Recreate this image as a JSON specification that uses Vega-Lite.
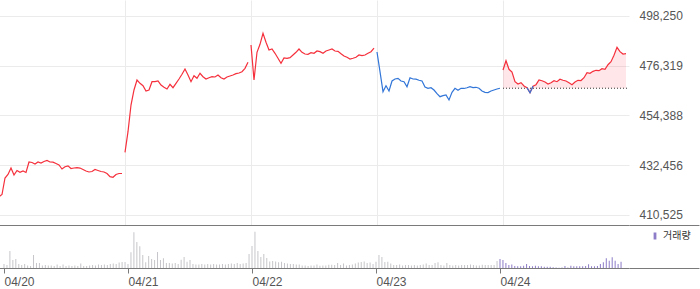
{
 "$schema": "https://vega.github.io/schema/vega-lite/v6.json",
 "padding": {"left": -4, "top": 0, "right": 0, "bottom": 0},
 "background": "white",
 "spacing": 1,
 "bounds": "flush",
 "config": {"view": {"stroke": null}, "font": "Liberation Sans"},
 "datasets": {
  "prev": [{"s": 168, "s2": 210, "p": 466400}],
  "m": [
{"s":0,"day":"04/20","p":418580,"v":4000},{"s":1,"day":"04/20","p":419550,"v":3000},{"s":2,"day":"04/20","p":426820,"v":17000},{"s":3,"day":"04/20","p":428360,"v":8000},{"s":4,"day":"04/20","p":431230,"v":9000},{"s":5,"day":"04/20","p":428140,"v":4000},{"s":6,"day":"04/20","p":430130,"v":3000},{"s":7,"day":"04/20","p":429330,"v":4000},{"s":8,"day":"04/20","p":429910,"v":2500},{"s":9,"day":"04/20","p":429250,"v":2000},
{"s":10,"day":"04/20","p":433870,"v":13000},{"s":11,"day":"04/20","p":433650,"v":5000},{"s":12,"day":"04/20","p":432990,"v":5000},{"s":13,"day":"04/20","p":433870,"v":2500},{"s":14,"day":"04/20","p":433430,"v":3000},{"s":15,"day":"04/20","p":434100,"v":2500},{"s":16,"day":"04/20","p":434540,"v":2500},{"s":17,"day":"04/20","p":433870,"v":2000},{"s":18,"day":"04/20","p":433800,"v":3500},{"s":19,"day":"04/20","p":433210,"v":2000},
{"s":20,"day":"04/20","p":432550,"v":3500},{"s":21,"day":"04/20","p":430790,"v":2000},{"s":22,"day":"04/20","p":431800,"v":2500},{"s":23,"day":"04/20","p":432200,"v":2000},{"s":24,"day":"04/20","p":431010,"v":2500},{"s":25,"day":"04/20","p":431230,"v":2000},{"s":26,"day":"04/20","p":431360,"v":4500},{"s":27,"day":"04/20","p":431200,"v":2000},{"s":28,"day":"04/20","p":430570,"v":2000},{"s":29,"day":"04/20","p":429910,"v":2500},
{"s":30,"day":"04/20","p":429470,"v":3000},{"s":31,"day":"04/20","p":429690,"v":2500},{"s":32,"day":"04/20","p":430570,"v":3500},{"s":33,"day":"04/20","p":430130,"v":3000},{"s":34,"day":"04/20","p":429690,"v":3500},{"s":35,"day":"04/20","p":429470,"v":3000},{"s":36,"day":"04/20","p":428800,"v":4000},{"s":37,"day":"04/20","p":427390,"v":4500},{"s":38,"day":"04/20","p":427130,"v":4000},{"s":39,"day":"04/20","p":428360,"v":5500},
{"s":40,"day":"04/20","p":428800,"v":6000},{"s":41,"day":"04/20","p":428800,"v":6000},
{"s":42,"day":"04/21","p":438150,"v":4000},{"s":43,"day":"04/21","p":447230,"v":15700},{"s":44,"day":"04/21","p":459000,"v":35700},{"s":45,"day":"04/21","p":465620,"v":26000},{"s":46,"day":"04/21","p":470030,"v":21700},{"s":47,"day":"04/21","p":468570,"v":13000},{"s":48,"day":"04/21","p":467520,"v":5700},{"s":49,"day":"04/21","p":465180,"v":12000},
{"s":50,"day":"04/21","p":465620,"v":9000},{"s":51,"day":"04/21","p":469280,"v":8000},{"s":52,"day":"04/21","p":469300,"v":16000},{"s":53,"day":"04/21","p":469590,"v":8000},{"s":54,"day":"04/21","p":467820,"v":9700},{"s":55,"day":"04/21","p":466810,"v":5000},{"s":56,"day":"04/21","p":466060,"v":5000},{"s":57,"day":"04/21","p":468130,"v":4500},{"s":58,"day":"04/21","p":466630,"v":5000},{"s":59,"day":"04/21","p":468570,"v":4000},
{"s":60,"day":"04/21","p":470470,"v":8300},{"s":61,"day":"04/21","p":472540,"v":11000},{"s":62,"day":"04/21","p":474880,"v":6300},{"s":63,"day":"04/21","p":472230,"v":8000},{"s":64,"day":"04/21","p":469280,"v":4000},{"s":65,"day":"04/21","p":471920,"v":3500},{"s":66,"day":"04/21","p":470780,"v":3500},{"s":67,"day":"04/21","p":472980,"v":4000},{"s":68,"day":"04/21","p":471480,"v":3500},{"s":69,"day":"04/21","p":470470,"v":4000},
{"s":70,"day":"04/21","p":471040,"v":3500},{"s":71,"day":"04/21","p":471480,"v":4000},{"s":72,"day":"04/21","p":471350,"v":3500},{"s":73,"day":"04/21","p":472230,"v":3500},{"s":74,"day":"04/21","p":471040,"v":4000},{"s":75,"day":"04/21","p":470470,"v":3500},{"s":76,"day":"04/21","p":471350,"v":4000},{"s":77,"day":"04/21","p":471790,"v":4500},{"s":78,"day":"04/21","p":472230,"v":4000},{"s":79,"day":"04/21","p":472810,"v":5000},
{"s":80,"day":"04/21","p":473110,"v":4000},{"s":81,"day":"04/21","p":473690,"v":4500},{"s":82,"day":"04/21","p":475190,"v":5000},{"s":83,"day":"04/21","p":477830,"v":14000},
{"s":84,"day":"04/22","p":485460,"v":22000},{"s":85,"day":"04/22","p":470030,"v":36300},{"s":86,"day":"04/22","p":482240,"v":17000},{"s":87,"day":"04/22","p":485770,"v":11000},{"s":88,"day":"04/22","p":490620,"v":14000},{"s":89,"day":"04/22","p":486650,"v":10000},
{"s":90,"day":"04/22","p":483260,"v":6500},{"s":91,"day":"04/22","p":483700,"v":7000},{"s":92,"day":"04/22","p":481800,"v":6500},{"s":93,"day":"04/22","p":479600,"v":5700},{"s":94,"day":"04/22","p":477390,"v":6300},{"s":95,"day":"04/22","p":479730,"v":5000},{"s":96,"day":"04/22","p":479600,"v":4500},{"s":97,"day":"04/22","p":479860,"v":4000},{"s":98,"day":"04/22","p":481050,"v":4000},{"s":99,"day":"04/22","p":482240,"v":3500},
{"s":100,"day":"04/22","p":483700,"v":3500},{"s":101,"day":"04/22","p":482240,"v":2500},{"s":102,"day":"04/22","p":481490,"v":2500},{"s":103,"day":"04/22","p":481360,"v":2000},{"s":104,"day":"04/22","p":482070,"v":2500},{"s":105,"day":"04/22","p":481800,"v":2500},{"s":106,"day":"04/22","p":482810,"v":3500},{"s":107,"day":"04/22","p":482510,"v":2300},{"s":108,"day":"04/22","p":481800,"v":2500},{"s":109,"day":"04/22","p":482810,"v":2500},
{"s":110,"day":"04/22","p":483260,"v":3300},{"s":111,"day":"04/22","p":483700,"v":3300},{"s":112,"day":"04/22","p":482810,"v":3000},{"s":113,"day":"04/22","p":482680,"v":5000},{"s":114,"day":"04/22","p":481620,"v":3000},{"s":115,"day":"04/22","p":480610,"v":4500},{"s":116,"day":"04/22","p":480040,"v":2500},{"s":117,"day":"04/22","p":479290,"v":3000},{"s":118,"day":"04/22","p":479600,"v":3500},{"s":119,"day":"04/22","p":480040,"v":4500},
{"s":120,"day":"04/22","p":481050,"v":5500},{"s":121,"day":"04/22","p":480740,"v":6000},{"s":122,"day":"04/22","p":481050,"v":6500},{"s":123,"day":"04/22","p":481800,"v":5000},{"s":124,"day":"04/22","p":482510,"v":5500},{"s":125,"day":"04/22","p":484100,"v":4000},
{"s":126,"day":"04/23","p":482370,"v":6300},{"s":127,"day":"04/23","p":473690,"v":13000},{"s":128,"day":"04/23","p":464870,"v":11000},{"s":129,"day":"04/23","p":467520,"v":6000},
{"s":130,"day":"04/23","p":465180,"v":6300},{"s":131,"day":"04/23","p":469590,"v":4500},{"s":132,"day":"04/23","p":470470,"v":3000},{"s":133,"day":"04/23","p":470780,"v":3000},{"s":134,"day":"04/23","p":469590,"v":3500},{"s":135,"day":"04/23","p":469280,"v":2500},{"s":136,"day":"04/23","p":467070,"v":3000},{"s":137,"day":"04/23","p":471040,"v":3000},{"s":138,"day":"04/23","p":470470,"v":2500},{"s":139,"day":"04/23","p":470400,"v":3000},
{"s":140,"day":"04/23","p":469900,"v":2500},{"s":141,"day":"04/23","p":469590,"v":3000},{"s":142,"day":"04/23","p":466940,"v":3500},{"s":143,"day":"04/23","p":466370,"v":4500},{"s":144,"day":"04/23","p":466630,"v":3000},{"s":145,"day":"04/23","p":465620,"v":3000},{"s":146,"day":"04/23","p":463990,"v":5000},{"s":147,"day":"04/23","p":462670,"v":5700},{"s":148,"day":"04/23","p":463110,"v":3000},{"s":149,"day":"04/23","p":463410,"v":2500},
{"s":150,"day":"04/23","p":461210,"v":5000},{"s":151,"day":"04/23","p":464610,"v":3000},{"s":152,"day":"04/23","p":466370,"v":2500},{"s":153,"day":"04/23","p":465490,"v":3000},{"s":154,"day":"04/23","p":466370,"v":2500},{"s":155,"day":"04/23","p":466300,"v":3000},{"s":156,"day":"04/23","p":466630,"v":3000},{"s":157,"day":"04/23","p":467070,"v":3000},{"s":158,"day":"04/23","p":466700,"v":3500},{"s":159,"day":"04/23","p":466810,"v":3000},
{"s":160,"day":"04/23","p":466370,"v":2500},{"s":161,"day":"04/23","p":465180,"v":2500},{"s":162,"day":"04/23","p":464610,"v":3300},{"s":163,"day":"04/23","p":464500,"v":3000},{"s":164,"day":"04/23","p":465180,"v":3000},{"s":165,"day":"04/23","p":465620,"v":3000},{"s":166,"day":"04/23","p":466060,"v":3000},{"s":167,"day":"04/23","p":466400,"v":7000},
{"s":168,"day":"04/24","p":474440,"v":9000},{"s":169,"day":"04/24","p":478540,"v":8000},
{"s":170,"day":"04/24","p":474750,"v":5000},{"s":171,"day":"04/24","p":473560,"v":3000},{"s":172,"day":"04/24","p":469280,"v":3500},{"s":173,"day":"04/24","p":468260,"v":2000},{"s":174,"day":"04/24","p":468840,"v":1700},{"s":175,"day":"04/24","p":467380,"v":1700},{"s":176,"day":"04/24","p":466630,"v":2300},{"s":177,"day":"04/24","p":464430,"v":4000},{"s":178,"day":"04/24","p":467250,"v":2000},{"s":179,"day":"04/24","p":467960,"v":1700},
{"s":180,"day":"04/24","p":470030,"v":2300},{"s":181,"day":"04/24","p":469720,"v":1700},{"s":182,"day":"04/24","p":469150,"v":1700},{"s":183,"day":"04/24","p":468260,"v":1300},{"s":184,"day":"04/24","p":468840,"v":1300},{"s":185,"day":"04/24","p":469720,"v":1300},{"s":186,"day":"04/24","p":469280,"v":700},{"s":187,"day":"04/24","p":470340,"v":500},{"s":188,"day":"04/24","p":469900,"v":300},{"s":189,"day":"04/24","p":469590,"v":500},
{"s":190,"day":"04/24","p":468840,"v":2000},{"s":191,"day":"04/24","p":467960,"v":500},{"s":192,"day":"04/24","p":469150,"v":2300},{"s":193,"day":"04/24","p":469900,"v":1700},{"s":194,"day":"04/24","p":469800,"v":1700},{"s":195,"day":"04/24","p":471040,"v":1700},{"s":196,"day":"04/24","p":473250,"v":1700},{"s":197,"day":"04/24","p":472980,"v":2000},{"s":198,"day":"04/24","p":473860,"v":3700},{"s":199,"day":"04/24","p":474310,"v":1700},
{"s":200,"day":"04/24","p":474130,"v":1700},{"s":201,"day":"04/24","p":475010,"v":2000},{"s":202,"day":"04/24","p":474750,"v":4000},{"s":203,"day":"04/24","p":476770,"v":5700},{"s":204,"day":"04/24","p":478100,"v":9700},{"s":205,"day":"04/24","p":480920,"v":7300},{"s":206,"day":"04/24","p":484450,"v":10700},{"s":207,"day":"04/24","p":482510,"v":7300},{"s":208,"day":"04/24","p":481490,"v":4000},{"s":209,"day":"04/24","p":481620,"v":6300}
  ]
 },
 "vconcat": [
  {
   "width": 630,
   "height": 225,
   "layer": [
    {
     "data": {"name": "m"},
     "transform": [{"filter": "datum.day == '04/24'"}],
     "mark": {"type": "area", "color": "#ff3344", "opacity": 0.12},
     "encoding": {
      "x": {"field": "s", "type": "quantitative", "scale": {"domain": [0, 210], "nice": false, "zero": false},
            "axis": {"values": [42, 84, 126, 168], "grid": true, "gridColor": "#ebebeb", "labels": false, "ticks": false, "domain": false, "title": null}},
      "y": {"field": "p", "type": "quantitative", "scale": {"domain": [406100, 505300], "nice": false, "zero": false},
            "axis": {"orient": "right", "title": null, "values": [406100, 410525, 432456, 454388, 476319, 498250],
                     "labelExpr": "datum.value < 410000 ? '' : format(datum.value, ',')",
                     "grid": true, "gridColor": {"condition": {"test": "datum.value < 410000", "value": "#7a7a7a"}, "value": "#ebebeb"},
                     "domain": false, "ticks": true, "tickSize": 70,
                     "tickColor": {"condition": {"test": "datum.value < 410000", "value": "#7a7a7a"}, "value": "transparent"},
                     "labelPadding": -60, "labelColor": "#555", "labelFontSize": 12, "labelOverlap": false, "labelAlign": "left"}},
      "y2": {"datum": 466400}
     }
    },
    {
     "data": {"name": "prev"},
     "mark": {"type": "rule", "strokeDash": [1, 2], "color": "#333", "strokeWidth": 1},
     "encoding": {
      "x": {"field": "s", "type": "quantitative"},
      "x2": {"field": "s2"},
      "y": {"field": "p", "type": "quantitative"}
     }
    },
    {
     "data": {"name": "m"},
     "mark": {"type": "line", "strokeWidth": 1.2},
     "encoding": {
      "x": {"field": "s", "type": "quantitative"},
      "y": {"field": "p", "type": "quantitative"},
      "color": {"field": "day", "type": "nominal", "legend": null,
                "scale": {"domain": ["04/20", "04/21", "04/22", "04/23", "04/24"], "range": ["#f5303c", "#f5303c", "#f5303c", "#3276d8", "#f5303c"]}}
     }
    },
    {
     "data": {"name": "m"},
     "transform": [{"filter": "datum.s >= 176 && datum.s <= 178"}],
     "mark": {"type": "line", "strokeWidth": 1.2, "color": "#3276d8"},
     "encoding": {
      "x": {"field": "s", "type": "quantitative"},
      "y": {"field": "p", "type": "quantitative"}
     }
    }
   ]
  },
  {
   "width": 630,
   "height": 42,
   "data": {"name": "m"},
   "mark": {"type": "bar", "size": 1},
   "encoding": {
    "x": {"field": "s", "type": "quantitative", "scale": {"domain": [0, 210], "nice": false, "zero": false},
          "axis": {"title": null, "values": [0, 42, 84, 126, 168], "labelExpr": "['04/20','04/21','04/22','04/23','04/24'][round(datum.value/42)]",
                   "labelAlign": "left", "labelFlush": false, "labelOverlap": false, "grid": false, "tickSize": 5,
                   "domainColor": "#7a7a7a", "tickColor": "#7a7a7a", "labelColor": "#555", "labelFontSize": 12, "labelPadding": 3}},
    "y": {"field": "v", "type": "quantitative", "scale": {"domain": [0, 42000], "nice": false},
          "axis": {"orient": "right", "title": null, "values": [0], "labels": false, "domain": false, "grid": false, "ticks": true, "tickSize": 70, "tickColor": "#7a7a7a"}},
    "color": {"field": "day", "type": "nominal",
              "scale": {"domain": ["04/20", "04/21", "04/22", "04/23", "04/24"], "range": ["#c6c6ca", "#c6c6ca", "#c6c6ca", "#c6c6ca", "#8d7cc8"]},
              "legend": {"values": ["04/24"], "labelExpr": "'거래량'", "title": null, "orient": "none", "legendX": 651, "legendY": 5, "padding": 0,
                         "symbolType": "M-0.4,-1L0.4,-1L0.4,1L-0.4,1Z", "symbolSize": 49, "symbolStrokeWidth": 0,
                         "labelFont": "Noto Sans CJK KR", "labelFontSize": 10, "labelColor": "#333", "labelOffset": 3}}
   }
  }
 ],
 "resolve": {"scale": {"color": "independent", "x": "independent", "y": "independent"}}
}
